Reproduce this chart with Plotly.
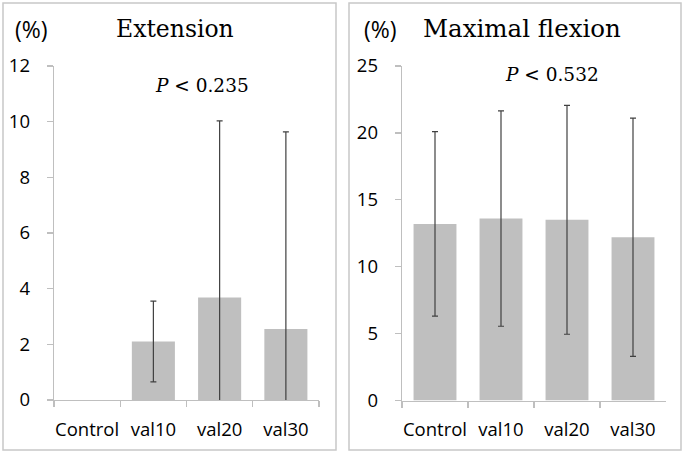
import plotly.graph_objects as go

categories = ["Control", "val10", "val20", "val30"]
ext_mean = [None, 2.1, 3.68, 2.55]
ext_sd = [None, 1.45, 6.35, 7.08]
flex_mean = [13.2, 13.6, 13.5, 12.2]
flex_sd = [6.9, 8.05, 8.55, 8.9]
ext_ticks = [0, 2, 4, 6, 8, 10, 12]
flex_ticks = [0, 5, 10, 15, 20, 25]

W, H = 685, 453
def px(x):
    return x / W
def py(y):
    return 1 - y / H

BAR = "#bfbfbf"
ERR = "#404040"
AX = "#bfbfbf"
TICKFONT = dict(family="Open Sans", size=18.5, color="#000000")

fig = go.Figure()
fig.add_trace(go.Bar(x=categories, y=ext_mean, marker_color=BAR, marker_line_width=0,
                     error_y=dict(type="data", array=ext_sd, color=ERR, thickness=1.2, width=3),
                     xaxis="x", yaxis="y", showlegend=False))
fig.add_trace(go.Bar(x=categories, y=flex_mean, marker_color=BAR, marker_line_width=0,
                     error_y=dict(type="data", array=flex_sd, color=ERR, thickness=1.2, width=3),
                     xaxis="x2", yaxis="y2", showlegend=False))

xcommon = dict(type="category", showline=True, linecolor=AX, linewidth=1.3,
               ticks="outside", tickson="boundaries", ticklen=6, tickcolor=AX, tickwidth=1.3,
               tickfont=TICKFONT, ticklabelstandoff=12, showgrid=False, zeroline=False,
               fixedrange=True, tickangle=0, automargin=False)
ycommon = dict(showline=True, linecolor=AX, linewidth=1.3, ticks="outside", ticklen=6,
               tickcolor=AX, tickwidth=1.3, tickfont=TICKFONT, ticklabelstandoff=13,
               showgrid=False, zeroline=False, fixedrange=True, automargin=False)

fig.update_layout(
    width=W, height=H, margin=dict(l=0, r=0, t=0, b=0),
    paper_bgcolor="white", plot_bgcolor="white", bargap=0.35,
    xaxis=dict(domain=[px(54), px(319)], anchor="y", **xcommon),
    yaxis=dict(domain=[py(400), py(66)], anchor="x", range=[0, 12], tickvals=ext_ticks, **ycommon),
    xaxis2=dict(domain=[px(402), px(666)], anchor="y2", **xcommon),
    yaxis2=dict(domain=[py(400.5), py(66)], anchor="x2", range=[0, 25], tickvals=flex_ticks, **ycommon),
)

shapes = [
    dict(type="rect", xref="paper", yref="paper", x0=px(3), x1=px(336), y0=py(450), y1=py(3),
         line=dict(color="#c8c8c8", width=1.5)),
    dict(type="rect", xref="paper", yref="paper", x0=px(349), x1=px(681), y0=py(450), y1=py(3),
         line=dict(color="#c8c8c8", width=1.5)),
]
fig.update_layout(shapes=shapes)

def ann(text, x, y, family, size):
    return dict(text=text, x=px(x), y=py(y), xref="paper", yref="paper", xanchor="center",
                yanchor="middle", showarrow=False, font=dict(family=family, size=size, color="#000000"))

fig.update_layout(annotations=[
    ann("(%)", 31, 29, "Open Sans", 23),
    ann("Extension", 175, 29, "DejaVu Serif", 23.5),
    ann("<i>P</i> &lt; 0.235", 202, 86, "DejaVu Serif", 18.5),
    ann("(%)", 380, 29, "Open Sans", 23),
    ann("Maximal flexion", 522, 29, "DejaVu Serif", 24.5),
    ann("<i>P</i> &lt; 0.532", 552, 75, "DejaVu Serif", 18.5),
])

fig.write_html("out.html", config={"displayModeBar": False, "staticPlot": True},
               post_script="document.body.style.margin='0';document.body.style.overflow='hidden';")
